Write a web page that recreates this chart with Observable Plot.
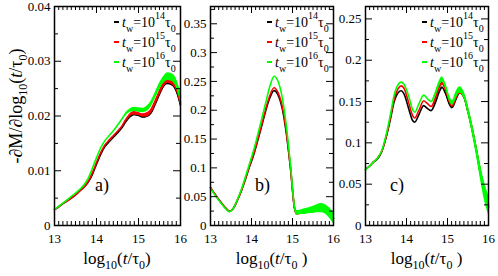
<!DOCTYPE html>
<html><head><meta charset="utf-8">
<script src="https://cdn.jsdelivr.net/npm/d3@7"></script>
<script src="https://cdn.jsdelivr.net/npm/@observablehq/plot@0.6"></script>
<style>
body{margin:0;background:#fff;}
#chart{position:relative;width:498px;height:276px;overflow:hidden;background:#fff;}
#chart svg{position:absolute;top:0;overflow:visible;}
#chart svg text{font-family:"Liberation Serif","Times New Roman",Times,"DejaVu Serif","Noto Serif",serif;}
</style></head><body><div id="chart"></div>
<script>
// ---- data ----
const seriesLabels = ["14", "15", "16"];
const colors = ["#000000", "#ff0000", "#00ff00"];
const panelLabels = ["a)", "b)", "c)"];
const xTickLabels = [13, 14, 15, 16];

// panel a
const xA = [13.0,13.1,13.2,13.3,13.4,13.5,13.6,13.7,13.8,13.9,14.0,14.1,14.2,14.3,14.4,14.5,14.6,14.7,14.8,14.9,15.0,15.1,15.2,15.3,15.4,15.5,15.6,15.7,15.8,15.9,16.0];
const aBlack = [.0029,.0034,.0040,.0045,.0050,.0056,.0063,.0070,.0079,.0093,.0112,.0130,.0144,.0153,.0161,.0169,.0178,.0190,.0199,.0203,.0202,.0199,.0200,.0206,.0222,.0240,.0255,.0262,.0260,.0248,.0222];
const aRed   = [.0029,.0034,.0040,.0045,.0050,.0056,.0063,.0070,.0080,.0096,.0115,.0133,.0147,.0156,.0164,.0172,.0181,.0193,.0202,.0205,.0204,.0201,.0202,.0209,.0225,.0243,.0258,.0265,.0263,.0252,.0226];
const aGreen = [.0029,.0035,.0041,.0047,.0053,.0059,.0066,.0074,.0086,.0104,.0124,.0142,.0155,.0164,.0173,.0183,.0194,.0204,.0210,.0212,.0211,.0210,.0213,.0222,.0238,.0254,.0266,.0272,.0270,.0260,.0234];
const aNoiseBlack = [0,0,0,0,0,0,0,0,0,0,0,0,0,0,0,0,0,.0001,.0002,.0002,.0003,.0003,.0003,.0003,.0004,.0004,.0004,.0005,.0005,.0005,.0006];
const aNoiseRed   = [0,0,0,0,0,0,0,0,0,0,0,0,0,0,0,0,0,.0001,.0002,.0003,.0003,.0003,.0004,.0004,.0004,.0004,.0005,.0005,.0006,.0006,.0007];
const aNoiseGreen = [0,0,0,0,0,0,0,0,0,0,0,0,0,0,0,0,0,.0002,.0003,.0004,.0004,.0004,.0005,.0005,.0005,.0006,.0006,.0007,.0007,.0008,.0009];
const aYLabels = [0, 0.01, 0.02, 0.03, 0.04];
const aYMinor = [0.005, 0.015, 0.025, 0.035];

// panel b
const xB = [13.0,13.1,13.2,13.3,13.4,13.46,13.55,13.65,13.75,13.85,13.95,14.05,14.15,14.25,14.35,14.45,14.55,14.65,14.75,14.85,14.95,15.05,15.1,15.2,15.3,15.4,15.5,15.6,15.7,15.8,15.9,16.0];
const bBlack = [.066,.055,.045,.036,.028,.0245,.029,.043,.060,.080,.102,.122,.147,.173,.200,.222,.234,.226,.203,.160,.100,.030,.021,.022,.024,.025,.026,.028,.030,.028,.022,.012];
const bRed   = [.066,.055,.045,.036,.028,.0245,.029,.043,.060,.081,.103,.124,.149,.175,.203,.226,.239,.230,.207,.163,.101,.030,.021,.022,.024,.025,.026,.028,.030,.028,.022,.012];
const bGreen = [.065,.054,.044,.035,.027,.024,.029,.044,.062,.084,.107,.130,.157,.185,.214,.242,.259,.250,.222,.173,.106,.032,.022,.023,.024,.026,.027,.029,.030,.028,.022,.013];
const bNoiseBlack = [0,0,0,0,0,0,0,0,0,0,0,0,0,0,0,0,0,0,0,0,0,.001,.002,.002,.002,.003,.003,.003,.004,.004,.005,.005];
const bNoiseRed   = [0,0,0,0,0,0,0,0,0,0,0,0,0,0,0,0,0,0,0,0,0,.002,.003,.003,.003,.004,.004,.005,.005,.006,.006,.007];
const bNoiseGreen = [0,0,0,0,0,0,0,0,0,0,0,0,0,0,0,0,0,0,0,0,0,.002,.004,.004,.005,.005,.006,.007,.008,.008,.009,.010];
const bYLabels = [0, 0.05, 0.1, 0.15, 0.2, 0.25, 0.3, 0.35];
const bYMinor = [0.025, 0.075, 0.125, 0.175, 0.225, 0.275, 0.325, 0.375];

// panel c
const xC = [13.0,13.1,13.2,13.3,13.4,13.5,13.6,13.7,13.8,13.87,13.95,14.05,14.15,14.2,14.3,14.42,14.5,14.6,14.7,14.8,14.87,14.95,15.05,15.12,15.2,15.3,15.4,15.5,15.6,15.7,15.8,15.9,16.0];
const cBlack = [.068,.072,.077,.081,.090,.106,.127,.150,.161,.163,.158,.142,.127,.125,.134,.145,.142,.139,.148,.162,.167,.160,.147,.143,.152,.161,.156,.138,.117,.092,.065,.042,.022];
const cRed   = [.068,.072,.077,.082,.090,.107,.129,.153,.166,.169,.165,.149,.133,.130,.139,.151,.148,.144,.153,.167,.172,.165,.150,.145,.154,.162,.157,.139,.118,.093,.066,.043,.024];
const cGreen = [.067,.072,.077,.082,.091,.109,.132,.158,.171,.1735,.170,.157,.140,.137,.147,.158,.154,.150,.159,.172,.177,.169,.153,.148,.157,.164,.158,.140,.118,.093,.066,.042,.025];
const cNoiseBlack = [0,0,0,0,0,0,0,0,0,0,0,0,0,0,0,0,0,0,.001,.001,.001,.001,.002,.002,.002,.002,.002,.002,.003,.003,.004,.004,.005];
const cNoiseRed   = [0,0,0,0,0,0,0,0,0,0,0,0,0,0,0,0,0,0,.001,.002,.002,.002,.002,.002,.003,.003,.003,.003,.004,.004,.005,.006,.007];
const cNoiseGreen = [0,0,0,0,0,0,0,0,0,0,0,0,0,0,0,0,0,0,.002,.003,.003,.003,.003,.003,.004,.004,.004,.005,.006,.007,.009,.011,.012];
const cYLabels = [0, 0.05, 0.1, 0.15, 0.2, 0.25];
const cYMinor = [0.025, 0.075, 0.125, 0.175, 0.225];

// ---- layout ----
const H = 276, MT = 6, MB = 51;
const FONT = '"Liberation Serif", "Times New Roman", Times, "DejaVu Serif", "Noto Serif", serif';
const xMinor = d3.range(130, 161).filter(d => d % 10 !== 0).map(d => d / 10);

const panels = [
  {left: 0, width: 185, ml: 54, mr: 5, x: xA, series: [aBlack, aRed, aGreen], noise: [aNoiseBlack, aNoiseRed, aNoiseGreen], yDomain: [0, 0.04], yLabels: aYLabels, yMinor: aYMinor, labelDx: 41, titleText: ")"},
  {left: 185, width: 155, ml: 25, mr: 7, x: xB, series: [bBlack, bRed, bGreen], noise: [bNoiseBlack, bNoiseRed, bNoiseGreen], yDomain: [0, 0.38], yLabels: bYLabels, yMinor: bYMinor, labelDx: 45, titleText: " )"},
  {left: 340, width: 158, ml: 25, mr: 10, x: xC, series: [cBlack, cRed, cGreen], noise: [cNoiseBlack, cNoiseRed, cNoiseGreen], yDomain: [0, 0.265], yLabels: cYLabels, yMinor: cYMinor, labelDx: 25, titleText: " )"}
];

const chart = document.getElementById("chart");

panels.forEach((p, pi) => {
  const ph = H - MT - MB;
  const pw = p.width - p.ml - p.mr;
  const marks = [];
  p.series.forEach((vals, k) => {
    const d = p.x.map((x, i) => ({x, v: vals[i], n: p.noise[k][i]}));
    marks.push(Plot.areaY(d, {x: "x", y1: r => r.v - r.n, y2: r => r.v + r.n, fill: colors[k], curve: "monotone-x"}));
    marks.push(Plot.line(d, {x: "x", y: "v", stroke: colors[k], strokeWidth: 1.6, curve: "monotone-x"}));
  });
  const tk = {stroke: "black", strokeWidth: 1};
  marks.push(
    Plot.tickX(xTickLabels, {x: d => d, insetTop: ph - 7, ...tk}),
    Plot.tickX(xTickLabels, {x: d => d, insetBottom: ph - 7, ...tk}),
    Plot.tickX(xMinor, {x: d => d, insetTop: ph - 4, ...tk}),
    Plot.tickX(xMinor, {x: d => d, insetBottom: ph - 4, ...tk}),
    Plot.tickY(p.yLabels, {y: d => d, insetRight: pw - 7, ...tk}),
    Plot.tickY(p.yLabels, {y: d => d, insetLeft: pw - 7, ...tk}),
    Plot.tickY(p.yMinor, {y: d => d, insetRight: pw - 4, ...tk}),
    Plot.tickY(p.yMinor, {y: d => d, insetLeft: pw - 4, ...tk}),
    Plot.frame({stroke: "black", strokeWidth: 1.5}),
    Plot.axisX({ticks: xTickLabels, tickSize: 0, tickPadding: 8, label: null, tickFormat: d => String(d), fontSize: 13}),
    Plot.axisY({ticks: p.yLabels, tickSize: 0, tickPadding: 4, label: null, tickFormat: d => String(d), fontSize: 13})
  );
  const svg = Plot.plot({
    width: p.width, height: H, marginTop: MT, marginBottom: MB, marginLeft: p.ml, marginRight: p.mr,
    x: {domain: [13, 16]}, y: {domain: p.yDomain},
    style: {fontFamily: FONT, fontSize: "13px", color: "black", background: "transparent", overflow: "visible"},
    marks
  });
  svg.style.left = p.left + "px";
  chart.appendChild(svg);

  const g = d3.select(svg).append("g").attr("fill", "black").attr("text-anchor", "start");
  const R = p.width - p.mr, L = p.ml;

  // legend
  [27, 47, 67].forEach((yb, k) => {
    g.append("line").attr("x1", R - 66).attr("x2", R - 61).attr("y1", yb - 5).attr("y2", yb - 5)
      .attr("stroke", colors[k]).attr("stroke-width", 2);
    const t = g.append("text").attr("x", R - 58).attr("y", yb).attr("font-size", 14).attr("text-anchor", "start");
    t.append("tspan").attr("font-style", "italic").text("t");
    t.append("tspan").attr("font-size", 10).attr("dy", 5).text("w");
    t.append("tspan").attr("dy", -5).text("=10");
    t.append("tspan").attr("font-size", 10).attr("dy", -8).text(seriesLabels[k]);
    t.append("tspan").attr("dy", 8).text("τ");
    t.append("tspan").attr("font-size", 10).attr("dy", 5).text("0");
  });

  // panel label
  g.append("text").attr("x", L + p.labelDx).attr("y", 191).attr("font-size", 18).attr("text-anchor", "start").text(panelLabels[pi]);

  // x title
  const xt = g.append("text").attr("x", (L + R) / 2).attr("y", 264).attr("font-size", 17).attr("text-anchor", "middle");
  xt.append("tspan").text("log");
  xt.append("tspan").attr("font-size", 12).attr("dy", 5).text("10");
  xt.append("tspan").attr("dy", -5).text("(");
  xt.append("tspan").attr("font-style", "italic").text("t");
  xt.append("tspan").text("/τ");
  xt.append("tspan").attr("font-size", 12).attr("dy", 5).text("0");
  xt.append("tspan").attr("dy", -5).text(p.titleText);

  if (pi === 0) {
    const yt = g.append("text").attr("transform", "translate(22,106) rotate(-90)").attr("font-size", 18).attr("text-anchor", "middle");
    yt.append("tspan").text("-∂M/∂log");
    yt.append("tspan").attr("font-size", 12).attr("dy", 5).text("10");
    yt.append("tspan").attr("dy", -5).text("(");
    yt.append("tspan").attr("font-style", "italic").text("t");
    yt.append("tspan").text("/τ");
    yt.append("tspan").attr("font-size", 12).attr("dy", 5).text("0");
    yt.append("tspan").attr("dy", -5).text(")");
  }
});
</script></body></html>
